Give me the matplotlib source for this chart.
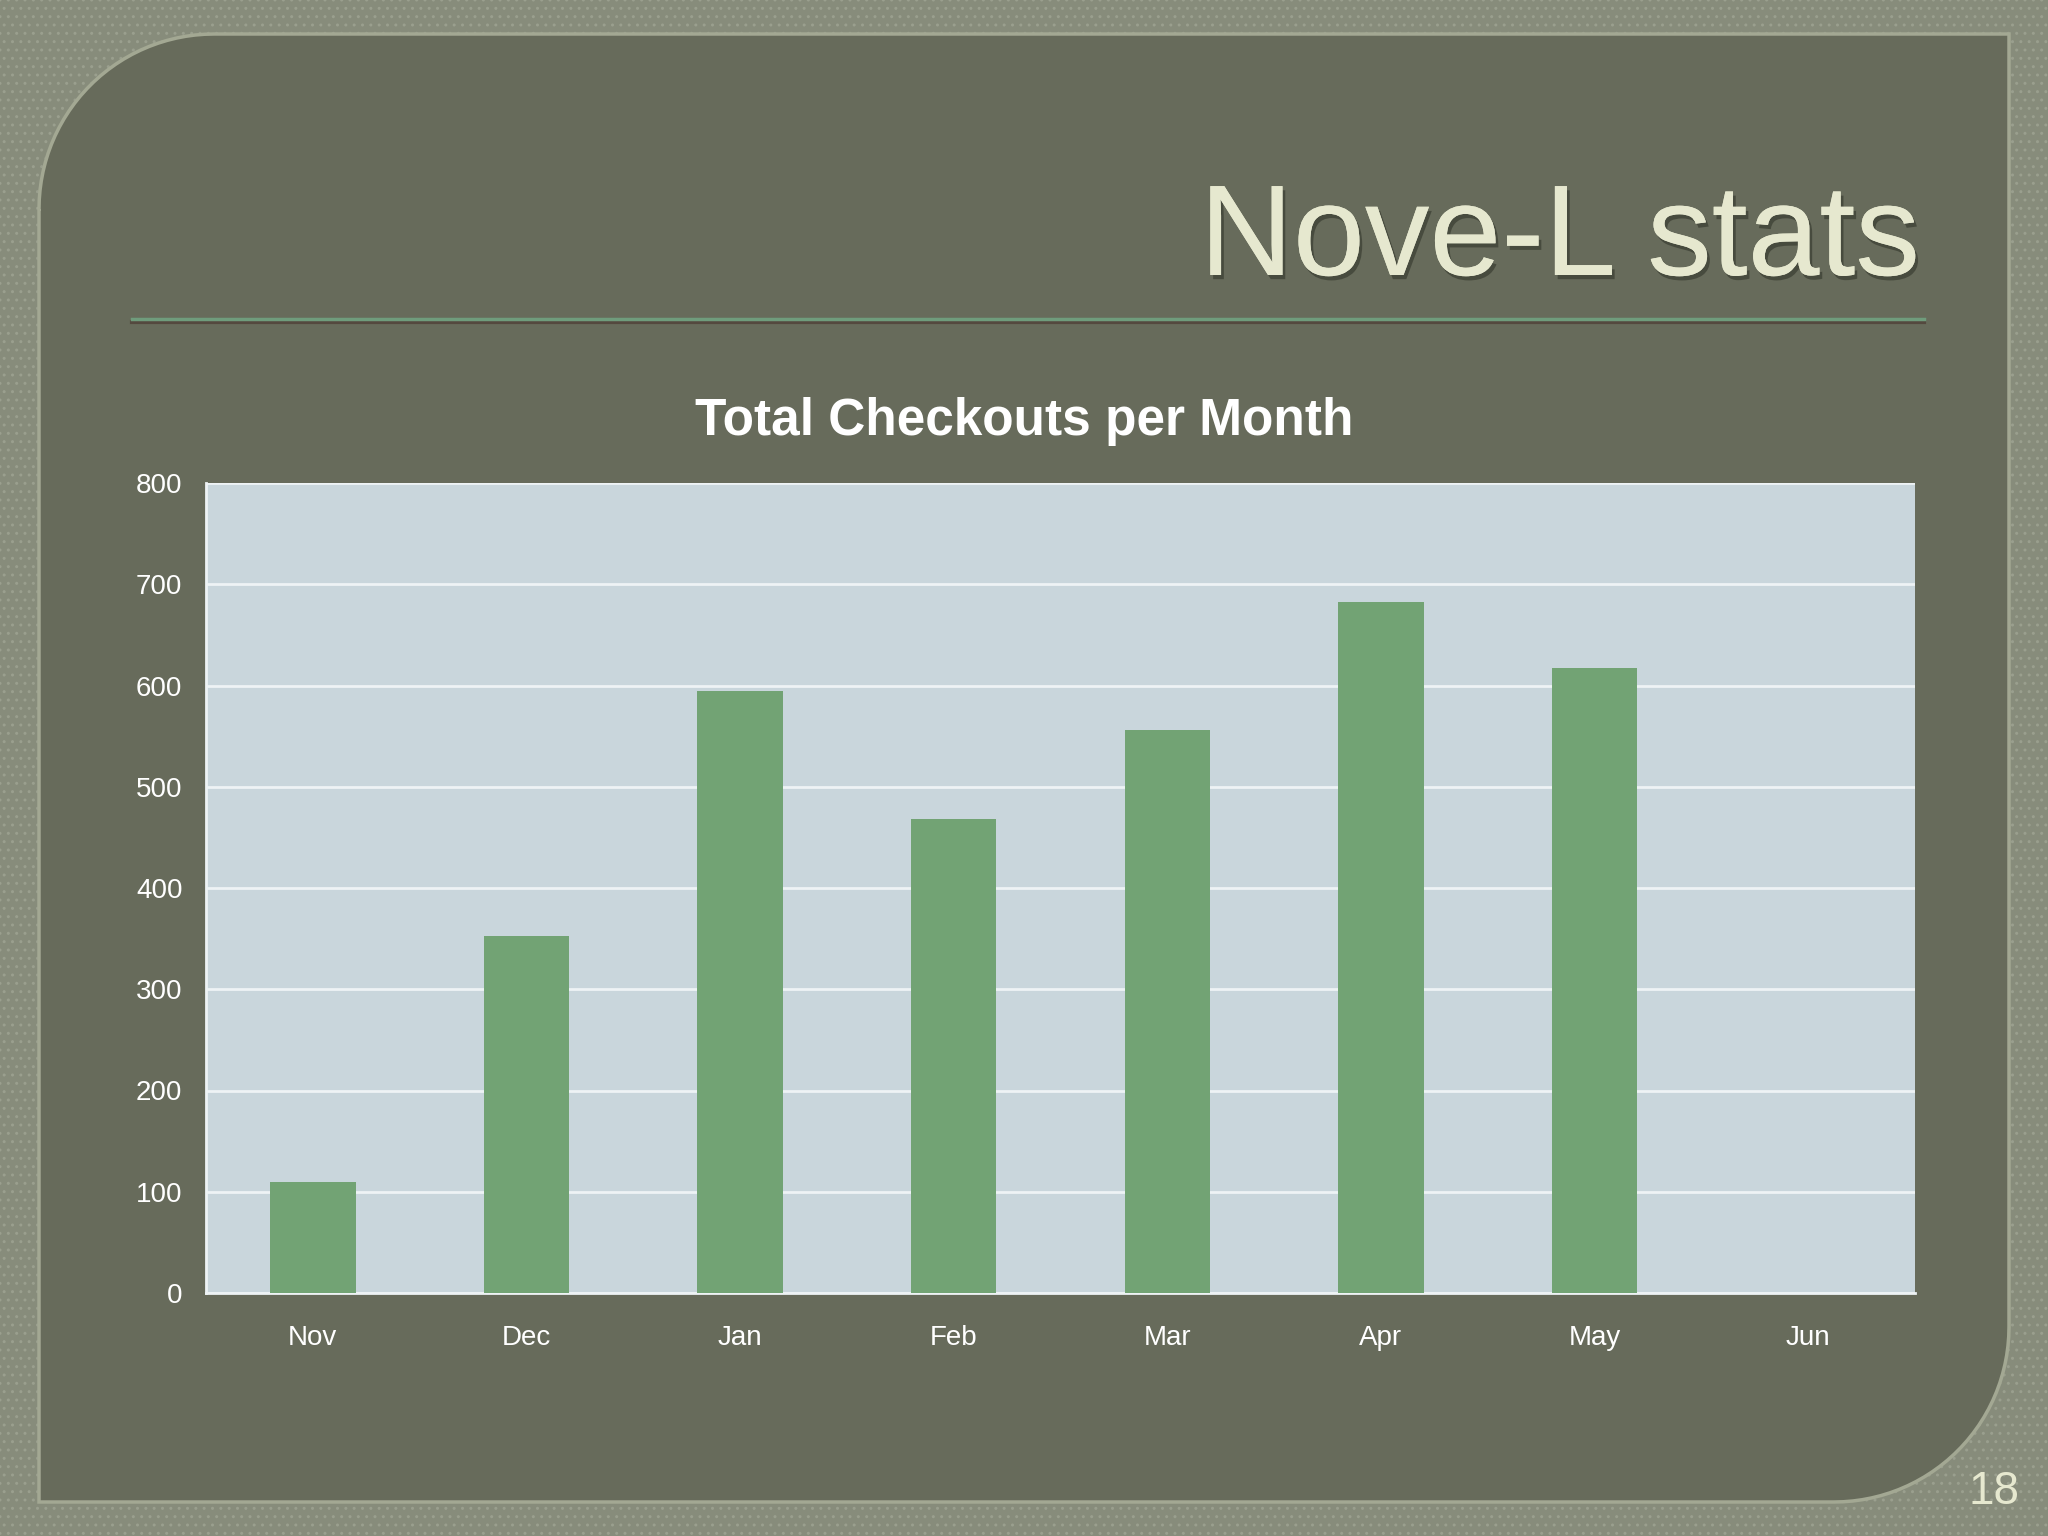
import numpy as np
import matplotlib
matplotlib.use("Agg")
import matplotlib.pyplot as plt
from matplotlib.path import Path
from matplotlib.patches import PathPatch, Rectangle
import matplotlib.patheffects as pe

plt.rcParams['font.family'] = ['Liberation Sans', 'DejaVu Sans']

months = ['Nov', 'Dec', 'Jan', 'Feb', 'Mar', 'Apr', 'May', 'Jun']
checkouts = [110, 353, 595, 468, 556, 682, 617, 0]
yticks = [0, 100, 200, 300, 400, 500, 600, 700, 800]

slide_title = 'Nove-L stats'
chart_title = 'Total Checkouts per Month'
page_num = '18'

W, H = 20.48, 15.36
fig = plt.figure(figsize=(W, H), dpi=100)
fig.patch.set_facecolor('#878c7b')

# textured outer frame
fig.add_artist(Rectangle((0, 0), 1, 1, transform=fig.transFigure, facecolor='none',
                         edgecolor='#9a9f8e', hatch='..', linewidth=0, zorder=0))


def panel_path(x0, y0, x1, y1, r):
    # rounded top-left and bottom-right corners only
    verts = []
    verts.append((x0 + r, y1))
    verts.append((x1, y1))
    verts.append((x1, y0 + r))
    t = np.linspace(0, -np.pi / 2, 30)
    for a in t:
        verts.append((x1 - r + r * np.cos(a), y0 + r + r * np.sin(a)))
    verts.append((x0, y0))
    verts.append((x0, y1 - r))
    t = np.linspace(np.pi, np.pi / 2, 30)
    for a in t:
        verts.append((x0 + r + r * np.cos(a), y1 - r + r * np.sin(a)))
    verts.append((x0 + r, y1))
    codes = [Path.MOVETO] + [Path.LINETO] * (len(verts) - 2) + [Path.CLOSEPOLY]
    return Path(verts, codes)


p = panel_path(0.39, 0.34, 20.09, 15.02, 1.75)
fig.add_artist(PathPatch(p, transform=fig.dpi_scale_trans, facecolor='#676b5b',
                         edgecolor='#a3a893', linewidth=2.5, zorder=1))

# title
fig.text(1920 / 2048, 1 - 275 / 1536, slide_title, ha='right', va='baseline',
         fontsize=93, color='#e6e8cf', zorder=5,
         path_effects=[pe.withSimplePatchShadow(offset=(2, -3), shadow_rgbFace='#33362b', alpha=0.6),
                       pe.Normal()])

# rule under title
fig.add_artist(plt.Line2D([132 / 2048, 1924 / 2048], [1 - 322 / 1536, 1 - 322 / 1536],
                          transform=fig.transFigure, color='#54493f', linewidth=3, zorder=3))
fig.add_artist(plt.Line2D([132 / 2048, 1924 / 2048], [1 - 319 / 1536, 1 - 319 / 1536],
                          transform=fig.transFigure, color='#6f9c7c', linewidth=2.5, zorder=3))

# chart
ax = fig.add_axes([206 / 2048, 1 - 1293 / 1536, (1915 - 206) / 2048, (1293 - 483) / 1536], zorder=4)
ax.set_facecolor('#c9d6dc')
x = np.arange(len(months))
ax.bar(x, checkouts, width=0.4, color='#72a374', zorder=3)
ax.set_xlim(-0.5, len(months) - 0.5)
ax.set_ylim(0, 800)
ax.set_yticks(yticks)
ax.set_xticks(x)
ax.set_xticklabels(months)
ax.yaxis.grid(True, color='#eef3f5', linewidth=2)
ax.set_axisbelow(True)
ax.tick_params(colors='white', labelsize=20, length=0)
ax.tick_params(axis='y', pad=17)
ax.tick_params(axis='x', pad=23)
for s in ['top', 'right']:
    ax.spines[s].set_visible(False)
for s in ['left', 'bottom']:
    ax.spines[s].set_color('#eef3f5')
    ax.spines[s].set_linewidth(2)

fig.text(1024 / 2048, 1 - 421 / 1536, chart_title, ha='center', va='center',
         fontsize=37, fontweight='bold', color='white', zorder=5)

fig.text(1994 / 2048, 1 - 1492 / 1536, page_num, ha='center', va='center',
         fontsize=33, color='#e6e8cf', zorder=5)

fig.savefig('out.png', dpi=100, facecolor=fig.get_facecolor())
